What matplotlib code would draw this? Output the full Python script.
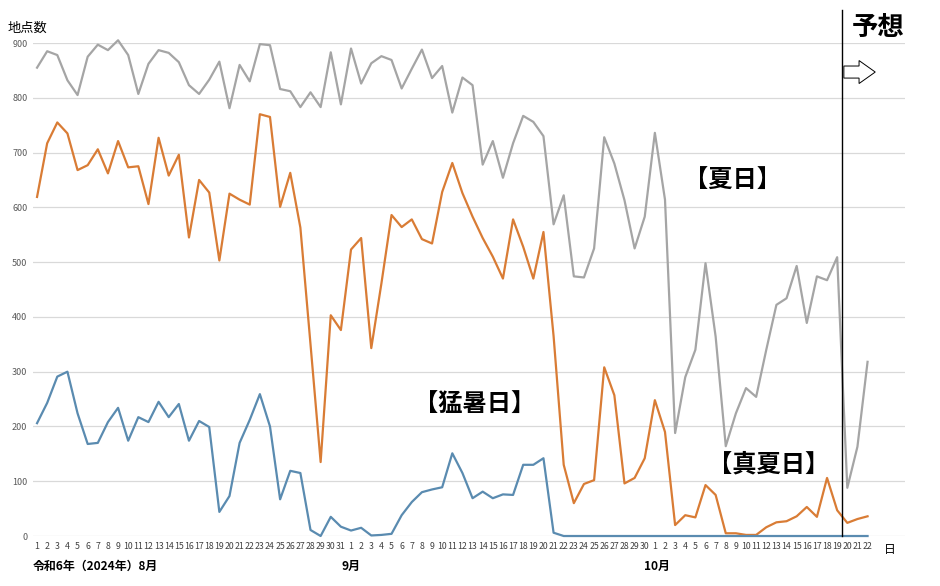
import matplotlib
matplotlib.use("Agg")
import matplotlib.pyplot as plt
from matplotlib.patches import FancyArrow

plt.rcParams["font.family"] = ["Noto Sans CJK JP", "DejaVu Sans"]

# 日付ラベル（8/1 - 10/22）
aug_days = [str(d) for d in range(1, 32)]
sep_days = [str(d) for d in range(1, 31)]
oct_days = [str(d) for d in range(1, 23)]
day_labels = aug_days + sep_days + oct_days

# 夏日
natsubi = [
    855, 885, 878, 832, 805, 875, 897, 887, 905, 878, 807, 862, 887, 882, 865, 823,
    807, 833, 866, 781, 860, 830, 898, 896, 816, 812, 783, 810, 783, 883, 788,
    890, 826, 863, 876, 869, 817, 853, 888, 836, 858, 773, 837, 823, 678, 721, 654,
    717, 767, 756, 730, 569, 622, 474, 472, 525, 728, 680, 613, 525, 583,
    736, 614, 188, 290, 340, 498, 364, 164, 224, 270, 254, 340, 422, 434, 493, 389,
    474, 467, 509, 88, 163, 318,
]

# 真夏日
manatsubi = [
    619, 717, 755, 735, 668, 677, 706, 662, 721, 673, 675, 606, 727, 658, 696, 545,
    650, 627, 503, 625, 614, 605, 770, 765, 601, 663, 563, 350, 135, 403, 376,
    523, 544, 343, 461, 586, 564, 578, 542, 534, 628, 681, 626, 583, 544, 510, 470,
    578, 528, 470, 555, 365, 130, 60, 95, 102, 308, 257, 96, 106, 142,
    248, 190, 20, 38, 34, 93, 75, 5, 5, 2, 2, 16, 25, 27, 36, 53,
    35, 106, 47, 24, 31, 36,
]

# 猛暑日
mosho = [
    206, 243, 291, 300, 224, 168, 170, 208, 234, 174, 217, 208, 245, 217, 241, 174,
    210, 199, 44, 73, 170, 212, 259, 200, 67, 119, 115, 11, 0, 35, 17,
    10, 15, 1, 2, 4, 38, 62, 80, 85, 89, 151, 115, 69, 81, 69, 76,
    75, 130, 130, 142, 6, 0, 0, 0, 0, 0, 0, 0, 0, 0,
    0, 0, 0, 0, 0, 0, 0, 0, 0, 0, 0, 0, 0, 0, 0, 0,
    0, 0, 0, 0, 0, 0,
]

x = list(range(len(day_labels)))

fig = plt.figure(figsize=(9.4, 5.86), dpi=100)
ax = fig.add_axes([0.0351, 0.0853, 0.9277, 0.8413])

ax.plot(x, natsubi, color="#A5A5A5", linewidth=1.6, clip_on=False, zorder=3)
ax.plot(x, manatsubi, color="#D97C35", linewidth=1.6, clip_on=False, zorder=3)
ax.plot(x, mosho, color="#5A8BB0", linewidth=1.6, clip_on=False, zorder=3)

ax.set_xlim(-0.4, 85.7)
ax.set_ylim(0, 900)
ax.set_yticks(range(0, 901, 100))
ax.set_xticks(x)
ax.set_xticklabels(day_labels)
ax.tick_params(axis="x", length=0, labelsize=6.3, labelcolor="#404040", pad=4)
ax.tick_params(axis="y", length=0, labelsize=6.5, labelcolor="#595959", pad=4)

ax.grid(axis="y", color="#D9D9D9", linewidth=0.9)
ax.set_axisbelow(True)
for s in ax.spines.values():
    s.set_visible(False)

# 月ラベル
ax.text(-0.4, -0.062, "令和6年（2024年）8月", transform=ax.get_xaxis_transform(),
        fontsize=8.6, fontweight="bold", ha="left", va="center")
ax.text(31, -0.062, "9月", transform=ax.get_xaxis_transform(),
        fontsize=8.6, fontweight="bold", ha="center", va="center")
ax.text(61.2, -0.062, "10月", transform=ax.get_xaxis_transform(),
        fontsize=8.6, fontweight="bold", ha="center", va="center")
ax.text(83.6, -0.028, "日", transform=ax.get_xaxis_transform(),
        fontsize=8.5, ha="left", va="center")
fig.text(8 / 940, 1 - 28 / 586, "地点数", fontsize=9.5, ha="left", va="center")

# 予想の区切り
ax.plot([79.5, 79.5], [0, 960], color="black", linewidth=1.0, clip_on=False, zorder=4)
ax.text(83.0, 928, "予想", fontsize=19, fontweight="bold", ha="center", va="center",
        bbox=dict(facecolor="white", edgecolor="none", pad=1), zorder=5)
ax.add_patch(FancyArrow(79.66, 847, 1.5, 0, width=22, head_width=42, head_length=1.6,
                        length_includes_head=False, facecolor="white",
                        edgecolor="black", linewidth=0.7, clip_on=False, zorder=5))

# 系列名
ax.text(68.7, 648, "【夏日】", fontsize=17.5, fontweight="bold", ha="center", va="center")
ax.text(43.2, 239, "【猛暑日】", fontsize=17.5, fontweight="bold", ha="center", va="center")
ax.text(72.2, 130, "【真夏日】", fontsize=17.5, fontweight="bold", ha="center", va="center")

fig.savefig("out.png", dpi=100)
